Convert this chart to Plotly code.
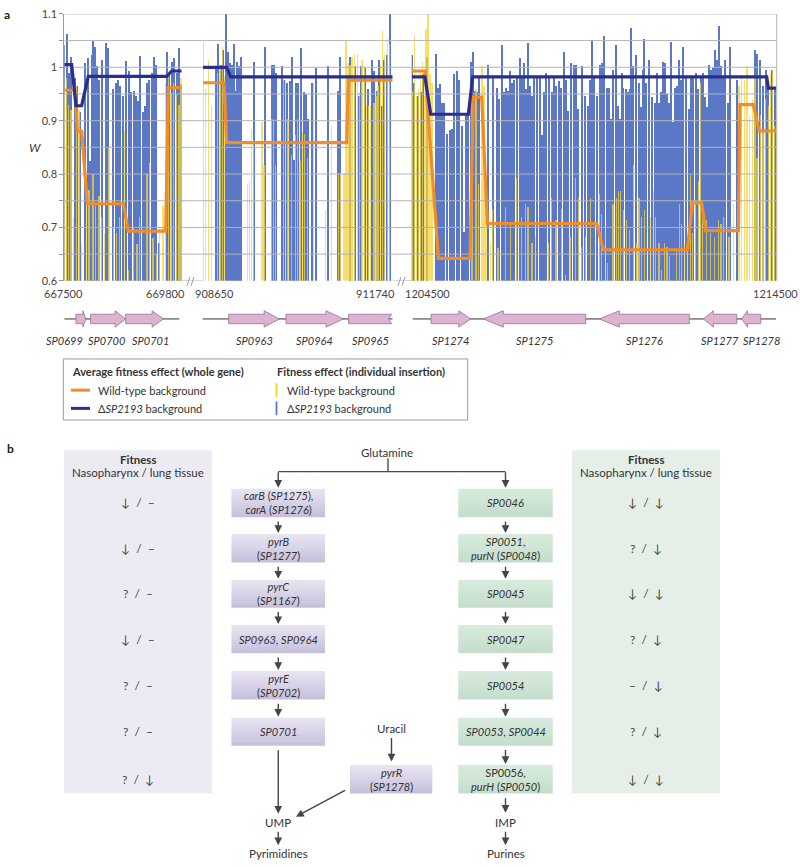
import plotly.graph_objects as go

FIG_W, FIG_H = 800, 867
FONT = "Lato"
TXT = "#3a3a3a"
BLUE = "#5a78c6"
YELLOW = "rgba(246,212,60,0.75)"
ORANGE = "#f28c28"
NAVY = "#2b2e8c"
GRID = "#b3b3b3"


def px(x):
    return x / FIG_W


def py(y):
    return 1 - y / FIG_H


# ---------------------------------------------------------------- panel a data
y_tick_vals = [0.6, 0.65, 0.7, 0.75, 0.8, 0.85, 0.9, 0.95, 1.0, 1.05, 1.1]
y_tick_text = ["0.6", "", "0.7", "", "0.8", "", "0.9", "", "1", "", "1.1"]

seg_ranges = [(667500, 669800), (908650, 911740), (1204500, 1214500)]
seg_tick_labels = [("667500", "669800"), ("908650", "911740"), ("1204500", "1214500")]

# individual insertions, delta-SP2193 background (blue)
blue1_pos = [667513, 667559, 667611, 667650, 667716, 667768, 667820, 667912, 667977, 668016,
             668049, 668075, 668108, 668147, 668199, 668251, 668330, 668376, 668461, 668526,
             668572, 668611, 668657, 668722, 668774, 668826, 668872, 668918, 668957, 669003,
             669049, 669094, 669134, 669173, 669225, 669277, 669316, 669362, 669519, 669571,
             669624, 669669, 669715, 669767, 669790]
blue1_w = [1.042, 1.062, 0.990, 1.019, 0.980, 0.965, 0.916, 1.008, 1.017, 0.824,
           1.023, 1.049, 1.039, 1.002, 0.977, 1.014, 1.046, 1.036, 0.959, 0.971,
           0.977, 0.965, 0.947, 1.012, 0.993, 0.953, 0.956, 0.947, 0.937, 1.021,
           0.916, 0.928, 0.971, 0.976, 0.990, 1.019, 1.005, 0.671, 1.029, 0.990,
           1.011, 1.017, 0.990, 1.037, 0.968]
blue2_pos = [908861, 908905, 908948, 908981, 909024, 909057, 909089, 909122, 909154, 909176,
             909208, 909241, 909273, 909479, 909664, 909783, 909816, 909848, 909935, 909978,
             910022, 910076, 910108, 910141, 910173, 910206, 910249, 910293, 910325, 910368,
             910423, 910488, 910683, 910856, 910889, 911051, 911127, 911192, 911225, 911290,
             911344, 911398, 911431, 911485, 911518, 911561, 911604, 911642, 911697]
blue2_w = [1.002, 1.044, 1.005, 1.033, 1.100, 1.029, 1.008, 1.005, 1.044, 0.956,
           1.011, 1.002, 1.020, 1.011, 1.039, 1.005, 1.005, 0.990, 1.002, 0.977,
           0.971, 0.974, 1.020, 0.827, 0.971, 0.971, 1.036, 0.953, 0.950, 0.904,
           0.971, 0.999, 1.003, 0.956, 1.020, 1.020, 1.002, 0.947, 1.002, 0.999,
           0.959, 1.014, 0.993, 0.956, 1.014, 0.928, 1.014, 1.023, 1.100]
blue3_pos = [1204510, 1204572, 1204681, 1204754, 1204818, 1204919, 1205156, 1205211, 1205266, 1205321,
             1205394, 1205467, 1205540, 1205595, 1205668, 1205741, 1205796, 1205869, 1205923, 1205996,
             1206051, 1206124, 1206179, 1206234, 1206289, 1206344, 1206599, 1206727, 1206837, 1206901,
             1206965, 1207019, 1207092, 1207147, 1207202, 1207257, 1207312, 1207385, 1207458, 1207513,
             1207567, 1207622, 1207677, 1207732, 1207787, 1207842, 1207933, 1208006, 1208061, 1208115,
             1208188, 1208261, 1208335, 1208389, 1208462, 1208535, 1208590, 1208663, 1208736, 1208791,
             1208864, 1208937, 1208992, 1209065, 1209156, 1209248, 1209321, 1209394, 1209449, 1209504,
             1209586, 1209659, 1209714, 1209769, 1209842, 1209896, 1209970, 1210024, 1210097, 1210152,
             1210207, 1210262, 1210298, 1210371, 1210426, 1210481, 1210517, 1210572, 1210645, 1210718,
             1210773, 1210828, 1210865, 1210919, 1211011, 1211084, 1211157, 1211212, 1211266, 1211321,
             1211394, 1211449, 1211504, 1211559, 1211613, 1211668, 1211723, 1211778, 1211833, 1211887,
             1211942, 1212015, 1212088, 1212143, 1212216, 1212289, 1212344, 1212417, 1212472, 1212527,
             1212582, 1212655, 1212709, 1212764, 1212819, 1212874, 1212929, 1212984, 1213038, 1213093,
             1213166, 1213221, 1213404, 1213897, 1213970, 1214043, 1214134, 1214207, 1214262, 1214372,
             1214463]
blue3_w = [1.023, 0.971, 0.947, 0.953, 0.987, 1.020, 1.026, 0.962, 0.968, 0.934,
           0.934, 0.876, 0.882, 0.885, 0.987, 0.993, 0.977, 0.891, 0.692, 0.910,
           0.910, 1.011, 1.029, 0.956, 0.953, 0.980, 1.005, 0.983, 0.962, 0.940,
           1.042, 0.953, 0.962, 0.956, 0.993, 0.971, 0.977, 0.983, 1.017, 0.980,
           1.008, 0.959, 1.046, 0.965, 0.947, 0.980, 0.980, 0.980, 0.873, 0.953,
           0.990, 0.980, 0.953, 0.980, 0.965, 0.974, 0.962, 1.029, 0.977, 0.919,
           1.008, 1.005, 1.005, 0.922, 1.002, 0.947, 0.928, 0.977, 1.051, 0.980,
           0.947, 1.005, 1.008, 1.058, 0.962, 0.962, 0.904, 0.996, 1.042, 0.928,
           0.904, 0.990, 0.962, 0.959, 0.953, 0.959, 1.074, 1.002, 1.023, 0.971,
           0.925, 0.996, 1.054, 0.971, 1.014, 0.944, 0.934, 0.990, 0.934, 0.953,
           1.011, 1.008, 0.950, 0.934, 1.048, 0.898, 0.962, 0.965, 1.014, 0.977,
           1.039, 0.980, 0.922, 0.980, 0.983, 0.990, 0.959, 0.983, 0.990, 0.944,
           0.925, 1.005, 0.996, 0.999, 1.033, 1.014, 1.077, 1.002, 0.980, 1.014,
           0.934, 1.039, 0.977, 1.033, 1.026, 1.014, 0.965, 0.996, 0.965, 0.996,
           0.960]

# individual insertions, wild-type background (yellow)
yellow1_pos = [667507, 667546, 667585, 667637, 667689, 667742, 667794, 667846, 667938, 667990,
               668068, 668121, 668186, 668238, 668291, 668382, 668474, 668530, 668591, 668689,
               668761, 668866, 668931, 668983, 669127, 669179, 669245, 669310, 669375, 669441,
               669493, 669545, 669597, 669650, 669702, 669754, 669793]
yellow1_w = [0.960, 0.980, 0.930, 0.920, 0.720, 0.965, 0.920, 0.670, 0.780, 0.770,
             0.800, 0.740, 0.760, 0.720, 0.690, 0.850, 0.700, 0.690, 0.720, 0.880,
             0.620, 0.700, 0.670, 0.720, 0.800, 0.820, 0.680, 0.650, 0.700, 0.740,
             0.970, 0.990, 0.950, 0.970, 0.950, 0.930, 0.980]
yellow2_pos = [908655, 908688, 908742, 908786, 908883, 908926, 908970, 909002, 909371, 909404,
               909436, 909469, 909610, 909642, 909761, 909794, 909826, 909956, 909989, 910032,
               910087, 910152, 910184, 910228, 910271, 910303, 910347, 910444, 910639, 910737,
               910856, 910889, 910943, 910976, 911008, 911041, 911073, 911117, 911160, 911192,
               911236, 911279, 911312, 911344, 911377, 911431, 911463, 911496, 911534, 911572,
               911604, 911648, 911680]
yellow2_w = [1.051, 0.959, 1.014, 0.928, 0.990, 1.005, 1.039, 0.983, 0.781, 0.787,
             0.885, 0.864, 0.898, 0.818, 0.904, 0.904, 0.818, 0.977, 0.974, 0.904,
             0.836, 0.873, 0.904, 0.824, 0.879, 0.876, 0.830, 0.971, 0.732, 0.891,
             0.802, 0.802, 0.802, 1.051, 1.008, 1.005, 1.020, 1.026, 1.023, 0.953,
             1.014, 1.002, 0.928, 0.928, 0.928, 0.934, 0.947, 0.965, 1.005, 1.069,
             1.026, 1.054, 1.044]
yellow3_pos = [1204517, 1204572, 1204627, 1204681, 1204736, 1204791, 1204846, 1204882, 1204937, 1204992,
               1205047, 1206143, 1206252, 1206325, 1206417, 1206471, 1206526, 1206654, 1206709, 1206855,
               1207056, 1207202, 1207366, 1207494, 1207604, 1207677, 1207787, 1207878, 1208243, 1208316,
               1208444, 1208590, 1208700, 1208828, 1208974, 1209065, 1209138, 1209248, 1209394,
               1209641, 1209697, 1209805, 1209860, 1210006, 1210097, 1210152, 1210207, 1210298, 1210371,
               1210463, 1210572, 1210664, 1210718, 1210791, 1210865, 1211029, 1211120, 1211175, 1211266,
               1211339, 1211413, 1211486, 1211559, 1211741, 1211833, 1211887, 1211960, 1212052, 1212125,
               1212180, 1212271, 1212344, 1212399, 1212454, 1212563, 1212673, 1212782, 1212892, 1212965,
               1213038, 1213184, 1213312, 1213458, 1213531, 1213604, 1213678, 1213751, 1213824, 1213897,
               1213952, 1214043, 1214116, 1214189, 1214262, 1214317, 1214372, 1214426, 1214481]
yellow3_w = [0.956, 1.060, 0.947, 0.959, 0.993, 1.011, 0.947, 1.072, 1.100, 0.987,
             0.971, 0.944, 0.959, 0.781, 1.002, 0.965, 0.756, 0.671, 0.732, 0.661,
             0.738, 0.707, 0.793, 0.720, 0.744, 0.738, 0.671, 0.683, 0.671, 0.756,
             0.714, 0.735, 0.612, 0.683, 0.793, 0.756, 0.664, 0.683, 0.756,
             0.763, 0.726, 0.695, 0.634, 0.744, 0.756, 0.769, 0.769, 0.732, 0.714,
             0.695, 0.818, 0.671, 0.756, 0.720, 0.732, 0.720, 0.769, 0.720, 0.671,
             0.621, 0.671, 0.664, 0.646, 0.658, 0.744, 0.707, 0.671, 0.683, 0.799,
             0.689, 0.750, 0.787, 0.971, 0.744, 0.714, 0.689, 0.683, 0.714, 0.707,
             0.720, 0.683, 0.744, 0.965, 0.980, 0.977, 1.002, 0.910, 0.940, 0.983,
             0.830, 0.910, 0.879, 0.940, 0.928, 0.990, 0.996, 0.891, 0.922]

# average fitness per gene (step lines)
wt1_pos = [667500, 667709, 667755, 667840, 667951, 668657, 668755, 669486, 669539, 669800]
wt1_w = [0.957, 0.957, 0.880, 0.880, 0.744, 0.744, 0.693, 0.693, 0.962, 0.962]
del1_pos = [667500, 667644, 667729, 667840, 667970, 669506, 669604, 669800]
del1_w = [1.005, 1.005, 0.928, 0.928, 0.983, 0.983, 0.993, 0.993]
wt2_pos = [908650, 908997, 909040, 910992, 911019, 911740]
wt2_w = [0.971, 0.971, 0.859, 0.859, 0.976, 0.976]
del2_pos = [908650, 909040, 909105, 911740]
del2_w = [1.000, 1.000, 0.982, 0.982]
wt3_pos = [1204500, 1204865, 1205231, 1206098, 1206189, 1206418, 1206573, 1209568, 1209751,
           1212053, 1212189, 1212445, 1212555, 1213450, 1213495, 1213861, 1214016, 1214500]
wt3_w = [0.993, 0.993, 0.642, 0.642, 0.944, 0.944, 0.707, 0.707, 0.658,
         0.658, 0.746, 0.746, 0.694, 0.694, 0.930, 0.930, 0.881, 0.881]
del3_pos = [1204500, 1204865, 1205021, 1206053, 1206171, 1214226, 1214272, 1214500]
del3_w = [0.982, 0.982, 0.912, 0.912, 0.982, 0.982, 0.961, 0.961]

# genes
gene_names = ["SP0699", "SP0700", "SP0701", "SP0963", "SP0964", "SP0965",
              "SP1274", "SP1275", "SP1276", "SP1277", "SP1278"]
gene_seg = [0, 0, 0, 1, 1, 1, 2, 2, 2, 2, 2]
gene_start = [667728, 668015, 668702, 909073, 910004, 911024, 1205029, 1206462, 1209640, 1212490, 1213542]
gene_end = [667923, 668702, 669443, 909896, 910936, 911723, 1206117, 1209268, 1212106, 1213405, 1214063]
gene_strand = [1, 1, 1, 1, 1, 0, 1, -1, -1, -1, -1]
track_start = [667500, 908640, 1204527]
track_end = [669755, 911740, 1214482]

# ---------------------------------------------------------------- panel b data
pyr_labels = ["<i>carB</i> (<i>SP1275</i>),<br><i>carA</i> (<i>SP1276</i>)",
              "<i>pyrB</i><br>(<i>SP1277</i>)",
              "<i>pyrC</i><br>(<i>SP1167</i>)",
              "<i>SP0963</i>, <i>SP0964</i>",
              "<i>pyrE</i><br>(<i>SP0702</i>)",
              "<i>SP0701</i>"]
pur_labels = ["<i>SP0046</i>",
              "<i>SP0051</i>,<br><i>purN</i> (<i>SP0048</i>)",
              "<i>SP0045</i>",
              "<i>SP0047</i>",
              "<i>SP0054</i>",
              "<i>SP0053</i>, <i>SP0044</i>",
              "SP0056,<br><i>purH</i> (<i>SP0050</i>)"]
pyrR_label = "<i>pyrR</i><br>(<i>SP1278</i>)"
fit_pyr = ["↓  /  –", "↓  /  –", "?  /  –", "↓  /  –", "?  /  –", "?  /  –", "?  /  ↓"]
fit_pur = ["↓  /  ↓", "?  /  ↓", "↓  /  ↓", "?  /  ↓", "–  /  ↓", "?  /  ↓", "↓  /  ↓"]

# ---------------------------------------------------------------- layout constants
seg_dom_px = [(64.3, 181.7), (202.7, 392.7), (411.7, 776.7)]
PLOT_TOP, PLOT_BOT = 7, 278
axis_names = ["x", "x2", "x3"]
layout_axis_keys = ["xaxis", "xaxis2", "xaxis3"]

fig = go.Figure()
shapes = []
annotations = []


def text(x, y, s, size=11, color=TXT, xanchor="center", yanchor="middle",
         xref="paper", yref="paper", xshift=0):
    annotations.append(dict(x=x, y=y, xref=xref, yref=yref, text=s, showarrow=False,
                            xanchor=xanchor, yanchor=yanchor, xshift=xshift,
                            font=dict(family=FONT, size=size, color=color)))


def line_px(x0, y0, x1, y1, color="#333", width=1, layer="above"):
    shapes.append(dict(type="line", xref="paper", yref="paper", x0=px(x0), y0=py(y0),
                       x1=px(x1), y1=py(y1), line=dict(color=color, width=width), layer=layer))


def arrow(x0, y0, x1, y1, width=1.4):
    annotations.append(dict(x=px(x1), y=py(y1), xref="paper", yref="paper",
                            ax=x0 - x1, ay=y0 - y1, axref="pixel", ayref="pixel",
                            text="", showarrow=True, arrowhead=2, arrowsize=1.1,
                            arrowwidth=width, arrowcolor="#454545", standoff=0, startstandoff=0))


# ---------------------------------------------------------------- panel a
blue_pos = [blue1_pos, blue2_pos, blue3_pos]
blue_w = [blue1_w, blue2_w, blue3_w]
yel_pos = [yellow1_pos, yellow2_pos, yellow3_pos]
yel_w = [yellow1_w, yellow2_w, yellow3_w]
wt_pos = [wt1_pos, wt2_pos, wt3_pos]
wt_w = [wt1_w, wt2_w, wt3_w]
del_pos = [del1_pos, del2_pos, del3_pos]
del_w = [del1_w, del2_w, del3_w]

bp_per_px = []
for i in range(3):
    r0, r1 = seg_ranges[i]
    d0, d1 = seg_dom_px[i]
    bp_per_px.append((r1 - r0) / (d1 - d0))

BAR_PX = 1.5
for i in range(3):
    fig.add_trace(go.Bar(x=blue_pos[i], y=blue_w[i], width=BAR_PX * bp_per_px[i],
                         marker=dict(color=BLUE, line=dict(width=0)),
                         xaxis=axis_names[i], yaxis="y", showlegend=False, hoverinfo="skip"))
for i in range(3):
    fig.add_trace(go.Bar(x=yel_pos[i], y=yel_w[i], width=BAR_PX * bp_per_px[i],
                         marker=dict(color=YELLOW, line=dict(width=0)),
                         xaxis=axis_names[i], yaxis="y", showlegend=False, hoverinfo="skip"))

# gridlines over the bars, inside each segment
for i in range(3):
    r0, r1 = seg_ranges[i]
    gx, gy = [], []
    for v in y_tick_vals[1:]:
        gx += [r0, r1, None]
        gy += [v, v, None]
    fig.add_trace(go.Scatter(x=gx, y=gy, mode="lines", line=dict(color=GRID, width=1),
                             xaxis=axis_names[i], yaxis="y", showlegend=False, hoverinfo="skip"))

for i in range(3):
    fig.add_trace(go.Scatter(x=wt_pos[i], y=wt_w[i], mode="lines",
                             line=dict(color=ORANGE, width=3.2),
                             xaxis=axis_names[i], yaxis="y", showlegend=False, hoverinfo="skip"))
    fig.add_trace(go.Scatter(x=del_pos[i], y=del_w[i], mode="lines",
                             line=dict(color=NAVY, width=3.2),
                             xaxis=axis_names[i], yaxis="y", showlegend=False, hoverinfo="skip"))

# gridlines in the gaps of the broken axis, and right border
for v in y_tick_vals:
    for g0, g1 in ((seg_dom_px[0][1], seg_dom_px[1][0]), (seg_dom_px[1][1], seg_dom_px[2][0])):
        shapes.append(dict(type="line", xref="paper", yref="y", x0=px(g0), x1=px(g1),
                           y0=v, y1=v, line=dict(color=GRID, width=1), layer="below"))
shapes.append(dict(type="line", xref="paper", yref="y", x0=px(776.7), x1=px(776.7),
                   y0=0.6, y1=1.1, line=dict(color=GRID, width=1)))

# axis break marks
for xc in (190.5, 401.5):
    for dx in (-3.5, 0.5):
        line_px(xc + dx, 283, xc + dx + 3, 274, color="#999", width=1)

# x tick labels (placed as in the original figure)
tick_px = [((63.5, "center"), (187, "right")), ((192.7, "left"), (397, "right")),
           ((403.3, "left"), (799.5, "right"))]
for i in range(3):
    for j in range(2):
        xp, anc = tick_px[i][j]
        text(px(xp), py(291), seg_tick_labels[i][j], size=11, color="#444", xanchor=anc)

text(px(35), py(143), "<i>W</i>", size=12, color="#333")
text(px(2), py(8), "<b>a</b>", size=12, color="#222", xanchor="left")

# gene track
TRACK_Y = 316.7
for i in range(3):
    shapes.append(dict(type="line", xref=axis_names[i], yref="paper",
                       x0=track_start[i], x1=track_end[i], y0=py(TRACK_Y), y1=py(TRACK_Y),
                       line=dict(color="#333", width=1)))

BODY_H, HEAD_H = 4.8, 8.3
label_shift = {"SP0699": -16, "SP0700": -2, "SP0701": 6, "SP1278": 10}
for k, name in enumerate(gene_names):
    seg = gene_seg[k]
    s, e = gene_start[k], gene_end[k]
    scale = bp_per_px[seg]
    len_px = (e - s) / scale
    h = min(0.3 * len_px, 20) * scale
    yt, yb = py(TRACK_Y - BODY_H), py(TRACK_Y + BODY_H)
    yht, yhb = py(TRACK_Y - HEAD_H), py(TRACK_Y + HEAD_H)
    ym = py(TRACK_Y)
    if gene_strand[k] == 1:
        pts = [(s, yt), (e - h, yt), (e - h, yht), (e, ym), (e - h, yhb), (e - h, yb), (s, yb)]
    elif gene_strand[k] == -1:
        pts = [(e, yt), (s + h, yt), (s + h, yht), (s, ym), (s + h, yhb), (s + h, yb), (e, yb)]
    else:
        n = 3 * scale
        pts = [(s, yt), (e, yt), (e - n, ym), (e, yb), (s, yb)]
    path = "M " + " L ".join(f"{x},{y}" for x, y in pts) + " Z"
    shapes.append(dict(type="path", path=path, xref=axis_names[seg], yref="paper",
                       fillcolor="#ddb3d2", line=dict(color="#9b6f93", width=0.8)))
    text((s + e) / 2, py(339), f"<i>{name}</i>", size=11, color="#333",
         xref=axis_names[seg], xshift=label_shift.get(name, 0))

# legend box
shapes.append(dict(type="rect", xref="paper", yref="paper", x0=px(63.3), x1=px(467.7),
                   y0=py(419.3), y1=py(357.3), line=dict(color="#9a9a9a", width=1),
                   fillcolor="white"))
text(px(70), py(370), "<b>Average fitness effect (whole gene)</b>", size=11, color="#333", xanchor="left")
text(px(275), py(370), "<b>Fitness effect (individual insertion)</b>", size=11, color="#333", xanchor="left")
line_px(71, 389, 90, 389, color=ORANGE, width=3)
line_px(71, 407.5, 90, 407.5, color=NAVY, width=3)
text(px(96), py(389), "Wild-type background", size=11, color="#333", xanchor="left")
text(px(96), py(407.5), "Δ<i>SP2193</i> background", size=11, color="#333", xanchor="left")
line_px(276.5, 382, 276.5, 396, color="#f2cf2c", width=1.8)
line_px(276.5, 400.5, 276.5, 414.5, color=BLUE, width=1.8)
text(px(285), py(389), "Wild-type background", size=11, color="#333", xanchor="left")
text(px(285), py(407.5), "Δ<i>SP2193</i> background", size=11, color="#333", xanchor="left")

# ---------------------------------------------------------------- panel b
text(px(5), py(448), "<b>b</b>", size=12, color="#222", xanchor="left")


def hex2rgb(h):
    h = h.lstrip("#")
    return tuple(int(h[i:i + 2], 16) for i in (0, 2, 4))


def grad_rect(x0, x1, y0, y1, c0, c1, n=10):
    a, b = hex2rgb(c0), hex2rgb(c1)
    for i in range(n):
        t = (i + 0.5) / n
        c = tuple(round(a[j] + (b[j] - a[j]) * t) for j in range(3))
        ya = y0 + (y1 - y0) * i / n
        yb = y0 + (y1 - y0) * (i + 1) / n + (0.6 if i < n - 1 else 0)
        shapes.append(dict(type="rect", xref="paper", yref="paper", x0=px(x0), x1=px(x1),
                           y0=py(yb), y1=py(ya), fillcolor=f"rgb{c}", line=dict(width=0)))


# fitness panels
shapes.append(dict(type="rect", xref="paper", yref="paper", x0=px(64), x1=px(212),
                   y0=py(798.5), y1=py(450), fillcolor="#ecebf3", line=dict(width=0)))
shapes.append(dict(type="rect", xref="paper", yref="paper", x0=px(572), x1=px(720),
                   y0=py(798.5), y1=py(450), fillcolor="#e5efe8", line=dict(width=0)))
for cx in (138, 646):
    text(px(cx), py(459), "<b>Fitness</b>", size=11.5, color="#333")
    text(px(cx), py(473), "Nasopharynx / lung tissue", size=11.5, color="#333")

row_y = [(489, 518), (535, 564), (581.5, 610), (627.5, 656), (674, 703), (721.5, 750), (769.5, 798.5)]
PYR_X = (231.5, 325)
PUR_X = (458.3, 552.7)
PYRR_X = (350, 432.3)
pyr_cx = (PYR_X[0] + PYR_X[1]) / 2
pur_cx = (PUR_X[0] + PUR_X[1]) / 2
pyrr_cx = (PYRR_X[0] + PYRR_X[1]) / 2

for i, lab in enumerate(pyr_labels):
    y0, y1 = row_y[i]
    grad_rect(PYR_X[0], PYR_X[1], y0, y1, "#e9e6f2", "#c5bedb")
    text(px(pyr_cx), py((y0 + y1) / 2), lab, size=11, color="#333")
for i, lab in enumerate(pur_labels):
    y0, y1 = row_y[i]
    grad_rect(PUR_X[0], PUR_X[1], y0, y1, "#d8ebdd", "#c4ddcb")
    text(px(pur_cx), py((y0 + y1) / 2), lab, size=11, color="#333")
y0, y1 = row_y[6]
grad_rect(PYRR_X[0], PYRR_X[1], y0, y1, "#e9e6f2", "#c5bedb")
text(px(pyrr_cx), py((y0 + y1) / 2), pyrR_label, size=11, color="#333")

for i, sym in enumerate(fit_pyr):
    y0, y1 = row_y[i]
    text(px(138), py((y0 + y1) / 2), sym, size=12, color="#444")
for i, sym in enumerate(fit_pur):
    y0, y1 = row_y[i]
    text(px(646), py((y0 + y1) / 2), sym, size=12, color="#444")

# arrows between boxes
for i in range(5):
    arrow(pyr_cx, row_y[i][1] + 3, pyr_cx, row_y[i + 1][0] - 1)
for i in range(6):
    arrow(pur_cx, row_y[i][1] + 3, pur_cx, row_y[i + 1][0] - 1)

# glutamine branch
text(px(387), py(452), "Glutamine", size=11.5, color="#333")
line_px(388, 458, 388, 471.7, color="#4a4a4a", width=1.4)
line_px(pyr_cx, 471.7, pur_cx, 471.7, color="#4a4a4a", width=1.4)
arrow(pyr_cx, 471, pyr_cx, 488)
arrow(pur_cx, 471, pur_cx, 488)

# bottom of pathways
arrow(pyr_cx, 754, pyr_cx, 819)
text(px(pyr_cx), py(827.5), "UMP", size=11.5, color="#333")
arrow(pyr_cx, 836, pyr_cx, 851)
text(px(pyr_cx), py(859.5), "Pyrimidines", size=11.5, color="#333")
text(px(391.5), py(732), "Uracil", size=11.5, color="#333")
arrow(391.5, 741, 391.5, 766)
arrow(346.5, 795, 296, 822)

arrow(pur_cx, 802, pur_cx, 818)
text(px(pur_cx), py(827.5), "IMP", size=11.5, color="#333")
arrow(pur_cx, 836, pur_cx, 851)
text(px(pur_cx), py(859.5), "Purines", size=11.5, color="#333")

# ---------------------------------------------------------------- axes & layout
layout_axes = {}
for i in range(3):
    d0, d1 = seg_dom_px[i]
    layout_axes[layout_axis_keys[i]] = dict(domain=[px(d0), px(d1)], range=list(seg_ranges[i]),
                                            anchor="y", visible=False, fixedrange=True)

fig.update_layout(
    width=FIG_W, height=FIG_H,
    margin=dict(l=0, r=0, t=0, b=0),
    paper_bgcolor="white", plot_bgcolor="rgba(0,0,0,0)",
    barmode="overlay", bargap=0,
    hovermode=False, showlegend=False,
    font=dict(family=FONT, size=11, color=TXT),
    yaxis=dict(domain=[py(PLOT_BOT), py(PLOT_TOP)], range=[0.6, 1.1], anchor="x",
               tickvals=y_tick_vals, ticktext=y_tick_text, ticks="outside", ticklen=4,
               tickcolor="#999", showline=True, linecolor="#999", linewidth=1,
               showgrid=False, zeroline=False, fixedrange=True, ticklabeloverflow="allow",
               tickfont=dict(family=FONT, size=11, color="#444")),
    shapes=shapes, annotations=annotations,
    **layout_axes,
)

# the page body carries a default margin; remove it so the 800x867 figure fills the window
fig.write_html("out.html", config={"displayModeBar": False},
               post_script="document.body.style.margin='0';document.body.style.overflow='hidden';")
